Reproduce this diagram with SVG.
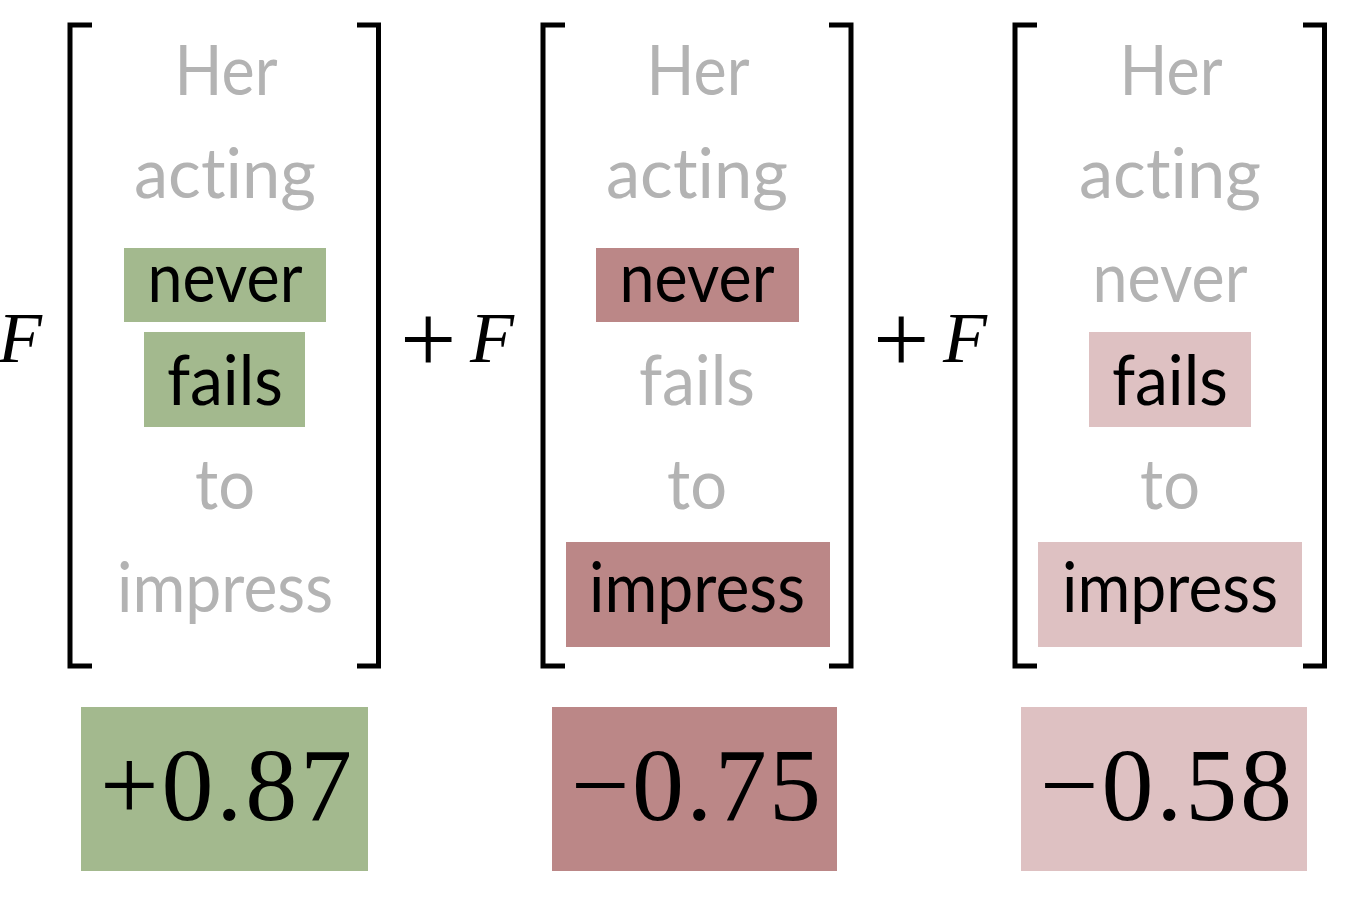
<svg xmlns="http://www.w3.org/2000/svg" width="1350" height="906" viewBox="0 0 1350 906">
<style>
.w{font-family:Lato,"Open Sans",sans-serif;font-size:70px;text-anchor:middle;font-variant-ligatures:none;font-feature-settings:"liga" 0}
.g{fill:#b3b3b3}
.k{fill:#000}
.br{fill:none;stroke:#000;stroke-width:5}
.num{font-family:"Liberation Serif","Times New Roman",serif;font-size:104px;text-anchor:middle;fill:#000}
.F{font-family:"Liberation Serif","Times New Roman",serif;font-style:italic;font-size:72px;fill:#000}
.op{font-family:"Liberation Serif","Times New Roman",serif;font-size:100px;fill:#000}
.gr{fill:#a3b98e}
.rd{fill:#bb8787}
.pk{fill:#dec1c2}
</style>
<rect width="1350" height="906" fill="#fff"/>
<g id="ops">
<text class="F" x="-2" y="362">F</text>
<text class="op" x="400" y="373">+</text>
<text class="F" x="470" y="362">F</text>
<text class="op" x="873" y="373">+</text>
<text class="F" x="943" y="362">F</text>
</g>
<g id="col1">
<path class="br" d="M92,25H70V666H92"/>
<path class="br" d="M357,25H378.5V666H357"/>
<rect class="gr" x="124" y="248" width="202" height="74"/>
<rect class="gr" x="144" y="332" width="161" height="95"/>
<text class="w g" x="226" y="95" textLength="103" lengthAdjust="spacingAndGlyphs">Her</text>
<text class="w g" x="225" y="198" textLength="182" lengthAdjust="spacingAndGlyphs">acting</text>
<text class="w k" x="225" y="302" textLength="155" lengthAdjust="spacingAndGlyphs">never</text>
<text class="w k" x="225" y="405" textLength="116" lengthAdjust="spacingAndGlyphs">fails</text>
<text class="w g" x="225" y="509" textLength="60" lengthAdjust="spacingAndGlyphs">to</text>
<text class="w g" x="225" y="612" textLength="216" lengthAdjust="spacingAndGlyphs">impress</text>
</g>
<g id="col2">
<path class="br" d="M565,25H543V666H565"/>
<path class="br" d="M829,25H851V666H829"/>
<rect class="rd" x="596" y="248" width="203" height="74"/>
<rect class="rd" x="566" y="542" width="264" height="105"/>
<text class="w g" x="698" y="95" textLength="103" lengthAdjust="spacingAndGlyphs">Her</text>
<text class="w g" x="697" y="198" textLength="182" lengthAdjust="spacingAndGlyphs">acting</text>
<text class="w k" x="697" y="302" textLength="155" lengthAdjust="spacingAndGlyphs">never</text>
<text class="w g" x="697" y="405" textLength="116" lengthAdjust="spacingAndGlyphs">fails</text>
<text class="w g" x="697" y="509" textLength="60" lengthAdjust="spacingAndGlyphs">to</text>
<text class="w k" x="697" y="612" textLength="216" lengthAdjust="spacingAndGlyphs">impress</text>
</g>
<g id="col3">
<path class="br" d="M1037,25H1015V666H1037"/>
<path class="br" d="M1303,25H1324.5V666H1303"/>
<rect class="pk" x="1089" y="332" width="162" height="95"/>
<rect class="pk" x="1038" y="542" width="264" height="105"/>
<text class="w g" x="1171" y="95" textLength="103" lengthAdjust="spacingAndGlyphs">Her</text>
<text class="w g" x="1170" y="198" textLength="182" lengthAdjust="spacingAndGlyphs">acting</text>
<text class="w g" x="1170" y="302" textLength="155" lengthAdjust="spacingAndGlyphs">never</text>
<text class="w k" x="1170" y="405" textLength="116" lengthAdjust="spacingAndGlyphs">fails</text>
<text class="w g" x="1170" y="509" textLength="60" lengthAdjust="spacingAndGlyphs">to</text>
<text class="w k" x="1170" y="612" textLength="216" lengthAdjust="spacingAndGlyphs">impress</text>
</g>
<g id="scores">
<rect class="gr" x="81" y="707" width="287" height="164"/>
<text class="num" x="226" y="820" textLength="252">+0.87</text>
<rect class="rd" x="552" y="707" width="285" height="164"/>
<text class="num" x="696" y="820" textLength="250">−0.75</text>
<rect class="pk" x="1021" y="707" width="286" height="164"/>
<text class="num" x="1166" y="820" textLength="252">−0.58</text>
</g>
</svg>
